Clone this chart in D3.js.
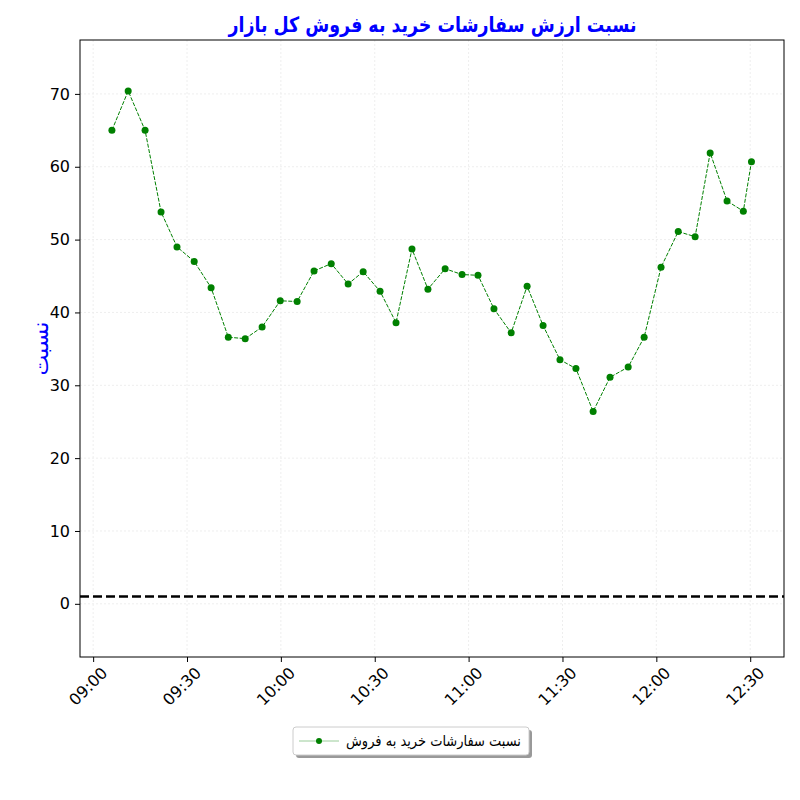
<!DOCTYPE html>
<html><head><meta charset="utf-8">
<script src="https://cdn.jsdelivr.net/npm/d3@7"></script>
<style>body{margin:0;background:#fff;font-family:"DejaVu Sans",sans-serif;}</style>
</head><body><svg id="c" width="800" height="800"></svg>
<script>
// minutes after 09:00
const minutes = [6,11.2,16.6,21.7,26.8,32.3,37.7,43.2,48.6,54,59.8,65.2,70.6,76.1,81.5,86.3,91.7,96.8,101.9,107,112.5,117.9,123,128.1,133.6,138.7,143.8,149.2,154.3,159.8,165.2,171,176.1,181.5,187,192.4,197.2,202.6,207.8,210.4];
const ratios = [65.0,70.4,65.0,53.8,49.0,47.0,43.4,36.6,36.4,38.0,41.6,41.5,45.7,46.7,43.9,45.6,42.9,38.6,48.7,43.2,46.0,45.2,45.1,40.5,37.2,43.6,38.2,33.5,32.3,26.4,31.1,32.5,36.6,46.2,51.1,50.4,61.9,55.3,53.9,60.7];
const yTicks = [0,10,20,30,40,50,60,70];
const xTickLabels = ["09:00","09:30","10:00","10:30","11:00","11:30","12:00","12:30"];
const refLine = 1;
const title = "نسبت ارزش سفارشات خرید به فروش کل بازار";
const yLabel = "نسبت";
const legendLabel = "نسبت سفارشات خرید به فروش";

const svg = d3.select("#c");
const L = 80, R = 784, T = 40, B = 657;
const x = d3.scaleLinear().domain([-4.2, 220.8]).range([L, R]);
const y = d3.scaleLinear().domain([-7.3, 77.4]).range([B, T]);
const xTicks = xTickLabels.map((d, i) => i * 30);

// grid
svg.append("g").selectAll("line").data(yTicks).join("line")
  .attr("x1", L).attr("x2", R).attr("y1", d => y(d)).attr("y2", d => y(d))
  .attr("stroke", "#eee").attr("stroke-dasharray", "2,2");
svg.append("g").selectAll("line").data(xTicks).join("line")
  .attr("y1", T).attr("y2", B).attr("x1", d => x(d)).attr("x2", d => x(d))
  .attr("stroke", "#eee").attr("stroke-dasharray", "2,2");

// axes
const ya = svg.append("g").attr("transform", `translate(${L},0)`)
  .call(d3.axisLeft(y).tickValues(yTicks).tickSize(5).tickPadding(5));
ya.selectAll("text").style("font-size", "16px").style("font-family", "DejaVu Sans");
const xa = svg.append("g").attr("transform", `translate(0,${B})`)
  .call(d3.axisBottom(x).tickValues(xTicks).tickFormat((d, i) => xTickLabels[i]).tickSize(5));
xa.selectAll("text").style("font-size", "16px").style("font-family", "DejaVu Sans")
  .attr("text-anchor", "end").attr("dx", "-0.1em").attr("dy", "0.9em")
  .attr("transform", "rotate(-45)");
svg.selectAll(".domain").remove();
svg.append("rect").attr("x", L).attr("y", T).attr("width", R - L).attr("height", B - T)
  .attr("fill", "none").attr("stroke", "#000");

// reference line
svg.append("line").attr("x1", L).attr("x2", R).attr("y1", y(refLine)).attr("y2", y(refLine))
  .attr("stroke", "#000").attr("stroke-width", 2.5).attr("stroke-dasharray", "9,4");

// series
const data = minutes.map((m, i) => ({m, v: ratios[i]}));
svg.append("path").datum(data)
  .attr("d", d3.line().x(d => x(d.m)).y(d => y(d.v)))
  .attr("fill", "none").attr("stroke", "green").attr("stroke-width", 1).attr("stroke-dasharray", "4,1.5");
svg.append("g").selectAll("circle").data(data).join("circle")
  .attr("cx", d => x(d.m)).attr("cy", d => y(d.v)).attr("r", 3.5).attr("fill", "green");

// title & label
svg.append("text").attr("x", (L + R) / 2 + 0.5).attr("y", 32).attr("text-anchor", "middle")
  .attr("fill", "blue").style("font-size", "21px").style("font-weight", "bold")
  .attr("textLength", 408).attr("lengthAdjust", "spacingAndGlyphs").text(title);
svg.append("text").attr("transform", `translate(48,${(T + B) / 2}) rotate(-90)`)
  .attr("text-anchor", "middle").attr("fill", "blue").style("font-size", "22px").text(yLabel);

// legend
const lg = svg.append("g").attr("transform", "translate(293,727)");
lg.append("rect").attr("x", 3).attr("y", 3).attr("width", 236).attr("height", 28).attr("rx", 3).attr("fill", "#999");
lg.append("rect").attr("width", 236).attr("height", 28).attr("rx", 3).attr("fill", "#fff").attr("stroke", "#ccc");
lg.append("line").attr("x1", 6).attr("x2", 46).attr("y1", 14).attr("y2", 14).attr("stroke", "#9c9").attr("stroke-width", 1);
lg.append("circle").attr("cx", 26).attr("cy", 14).attr("r", 3).attr("fill", "green");
lg.append("text").attr("x", 228).attr("y", 19).attr("text-anchor", "end").style("font-size", "15px")
  .attr("textLength", 175).attr("lengthAdjust", "spacingAndGlyphs").text(legendLabel);
</script></body></html>
